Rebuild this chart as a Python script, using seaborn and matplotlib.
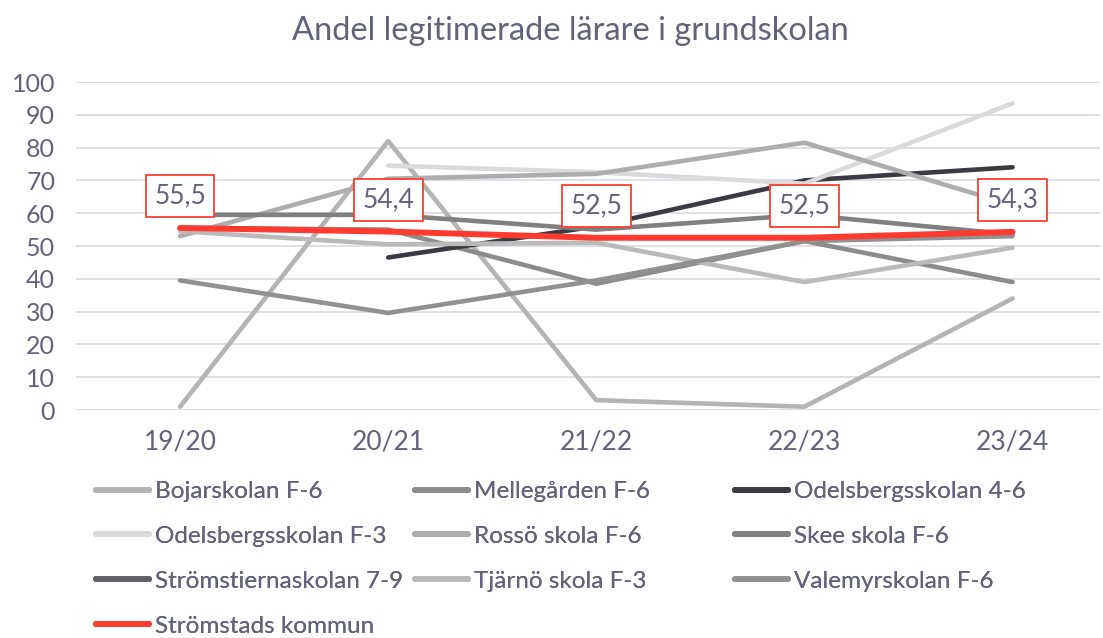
import numpy as np
import pandas as pd
import matplotlib.pyplot as plt
import seaborn as sns
from matplotlib.lines import Line2D

years = ['19/20', '20/21', '21/22', '22/23', '23/24']

bojarskolan = [1, 82, 3, 1, 34]
mellegarden = [55.5, 55, 38.5, 51.5, 39]
odelsberg_46 = [np.nan, 46.5, 56, 70, 74]
odelsberg_f3 = [np.nan, 74.5, 72.5, 69, 93.5]
rosso = [53, 70.5, 72, 81.5, 62.5]
skee = [59.5, 59.5, 55, 59.5, 53.5]
stromstierna = [np.nan, np.nan, np.nan, np.nan, np.nan]
tjarno = [54.5, 50.5, 51, 39, 49.5]
valemyr = [39.5, 29.6, 39.5, 51.5, 53]
kommun = [55.5, 54.4, 52.5, 52.5, 54.3]

schools = ['Bojarskolan F-6', 'Mellegården F-6', 'Odelsbergsskolan 4-6',
           'Odelsbergsskolan F-3', 'Rossö skola F-6', 'Skee skola F-6',
           'Strömstiernaskolan 7-9', 'Tjärnö skola F-3', 'Valemyrskolan F-6']
school_values = [bojarskolan, mellegarden, odelsberg_46, odelsberg_f3, rosso,
                 skee, stromstierna, tjarno, valemyr]
colors = ['#b4b4b4', '#8c8c8c', '#3a3a42', '#dadada', '#adadad',
          '#808080', '#626268', '#bababa', '#919191']
red = '#ff3b30'
text_color = '#62627a'

rows = []
for name, vals in zip(schools, school_values):
    for yr, v in zip(years, vals):
        rows.append({'year': yr, 'value': v, 'school': name})
df = pd.DataFrame(rows)
df_k = pd.DataFrame({'year': years, 'value': kommun})

sns.set_style('white')
plt.rcParams['font.family'] = ['Lato', 'DejaVu Sans']

fig = plt.figure(figsize=(11.03, 6.38), dpi=100)
ax = fig.add_axes([76 / 1103, 1 - 410 / 638, 1024 / 1103, 328 / 638])

x_pos = {y: i for i, y in enumerate(years)}
df['x'] = df['year'].map(x_pos)
df_k['x'] = df_k['year'].map(x_pos)

sns.lineplot(data=df.dropna(), x='x', y='value', hue='school', hue_order=schools,
             palette=dict(zip(schools, colors)), linewidth=3.3, legend=False,
             ax=ax, solid_capstyle='round', sort=False)
sns.lineplot(data=df_k, x='x', y='value', color=red, linewidth=4.3,
             ax=ax, solid_capstyle='round', sort=False, zorder=5)

for i, v in enumerate(kommun):
    ax.annotate(f'{v:.1f}'.replace('.', ','), xy=(i, v), xytext=(0, 23),
                textcoords='offset points', ha='center', va='center',
                fontsize=19, color=text_color, zorder=10,
                bbox=dict(boxstyle='square,pad=0.32', facecolor='white',
                          edgecolor=red, linewidth=1.3))

ax.set_xlim(-0.5, 4.42)
ax.set_ylim(0, 100)
ax.set_yticks(range(0, 101, 10))
ax.set_xticks(range(len(years)))
ax.set_xticklabels(years)
ax.grid(axis='y', color='#dcdce3', linewidth=1.3)
ax.set_axisbelow(True)
for s in ax.spines.values():
    s.set_visible(False)
ax.tick_params(axis='both', length=0, labelcolor=text_color)
ax.tick_params(axis='y', pad=15, labelsize=18)
ax.tick_params(axis='x', pad=14, labelsize=19)
ax.set_xlabel('')
ax.set_ylabel('')

fig.text(570 / 1103, 1 - 31 / 638, 'Andel legitimerade lärare i grundskolan',
         ha='center', va='center', fontsize=23.5, color=text_color)

handles = [Line2D([0], [0], color=c, lw=4.3) for c in colors]
handles.append(Line2D([0], [0], color=red, lw=4.3))
labels = schools + ['Strömstads kommun']

col_x = [96, 415, 735]
for c in range(3):
    idx = list(range(c, len(labels), 3))
    leg = fig.legend([handles[i] for i in idx], [labels[i] for i in idx],
                     loc='upper left', bbox_to_anchor=(col_x[c] / 1103, 1 - 481 / 638),
                     frameon=False, fontsize=17.5, labelcolor=text_color,
                     handlelength=2.2, handletextpad=0.22, labelspacing=0.98,
                     borderpad=0, borderaxespad=0)
    fig.add_artist(leg)

fig.savefig('out.png', dpi=100)
